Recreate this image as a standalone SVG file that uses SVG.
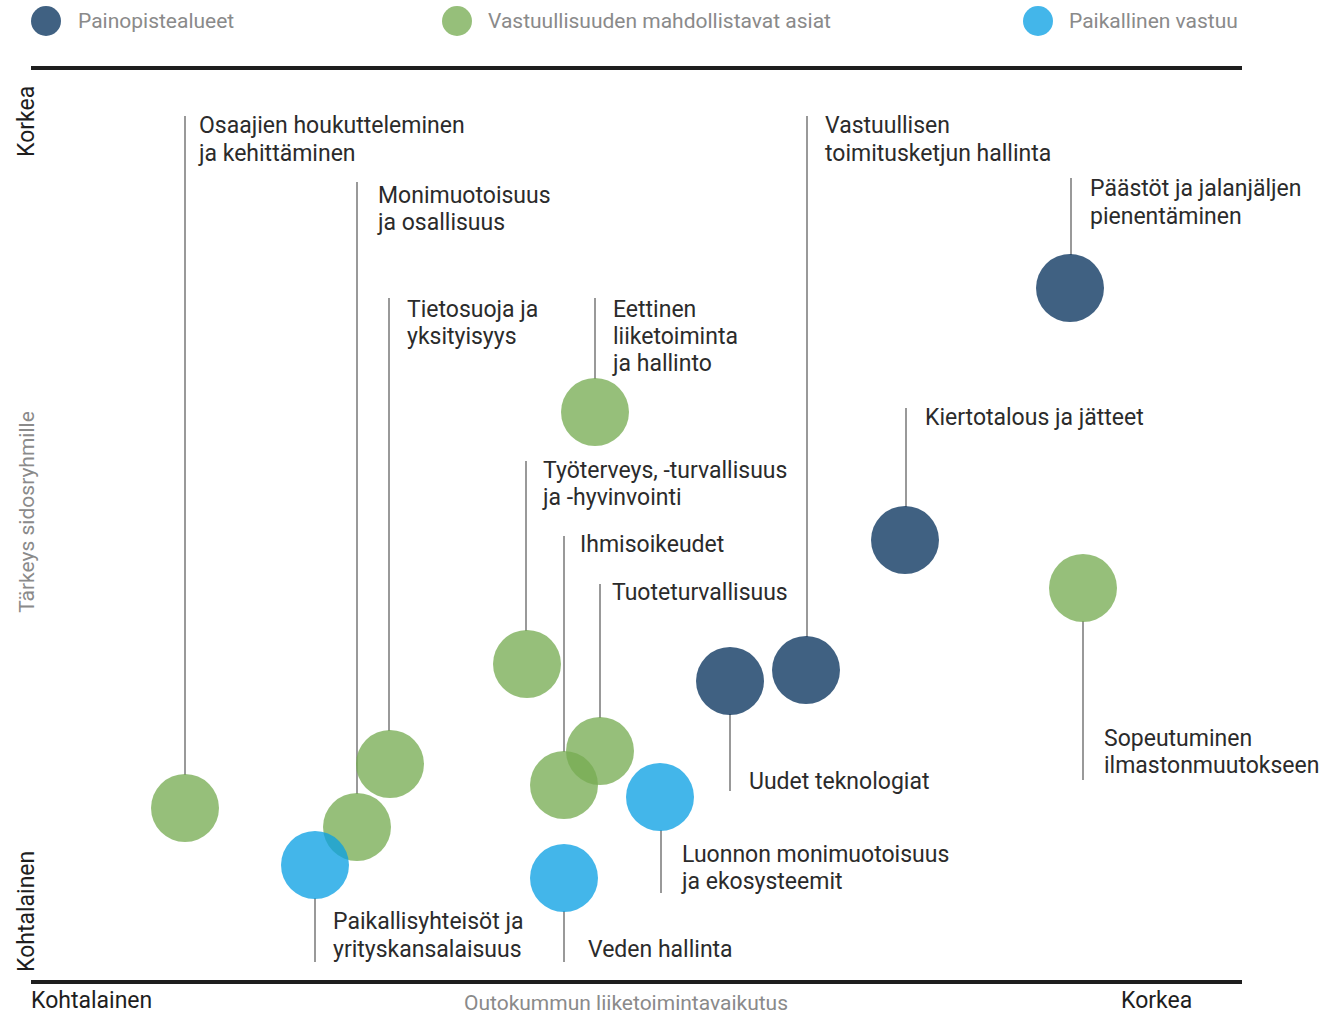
<svg xmlns="http://www.w3.org/2000/svg" width="1321" height="1013" viewBox="0 0 1321 1013">
<style>
text{font-family:Roboto,"Liberation Sans",sans-serif}
.lbl{font-size:23px;fill:#2b2b2b}
.leg{font-size:21px;fill:#8a8a8a}
.ax{font-size:23px;fill:#1e1e1e}
.axg{font-size:21px;fill:#8a8a8a}
.c{opacity:0.77}
.dark{fill:#06325d}
.green{fill:#77ac52}
.blue{fill:#0aa0e4}
.conn line{stroke:#999;stroke-width:2}
.axis{stroke:#1e1e1e;stroke-width:4}
</style>
<rect width="1321" height="1013" fill="#fff"/>
<g id="legend">
<circle class="c dark" cx="46" cy="21" r="15"/>
<text class="leg" x="78" y="28">Painopistealueet</text>
<circle class="c green" cx="457" cy="21" r="15"/>
<text class="leg" x="488" y="28">Vastuullisuuden mahdollistavat asiat</text>
<circle class="c blue" cx="1038" cy="21" r="15"/>
<text class="leg" x="1069" y="28">Paikallinen vastuu</text>
</g>
<g id="axes">
<line class="axis" x1="31" y1="68" x2="1242" y2="68"/>
<line class="axis" x1="31" y1="982" x2="1242" y2="982"/>
<text class="ax" transform="translate(34,157) rotate(-90)">Korkea</text>
<text class="ax" transform="translate(34,972) rotate(-90)">Kohtalainen</text>
<text class="axg" text-anchor="middle" transform="translate(34,512) rotate(-90)">Tärkeys sidosryhmille</text>
<text class="ax" x="31" y="1008">Kohtalainen</text>
<text class="axg" x="626" y="1010" text-anchor="middle">Outokummun liiketoimintavaikutus</text>
<text class="ax" x="1121" y="1008">Korkea</text>
</g>
<g class="conn" id="connectors">
<line x1="185" y1="116" x2="185" y2="775"/>
<line x1="357" y1="182" x2="357" y2="794"/>
<line x1="389" y1="298" x2="389" y2="731"/>
<line x1="595" y1="298" x2="595" y2="379"/>
<line x1="526" y1="461" x2="526" y2="631"/>
<line x1="564" y1="536" x2="564" y2="752"/>
<line x1="600" y1="584" x2="600" y2="718"/>
<line x1="807" y1="116" x2="807" y2="637"/>
<line x1="1071" y1="178" x2="1071" y2="255"/>
<line x1="906" y1="408" x2="906" y2="507"/>
<line x1="1083" y1="621" x2="1083" y2="780"/>
<line x1="730" y1="714" x2="730" y2="791"/>
<line x1="661" y1="830" x2="661" y2="893"/>
<line x1="315" y1="898" x2="315" y2="962"/>
<line x1="564" y1="911" x2="564" y2="962"/>
</g>
<g id="n-osaajien"><circle class="c green" cx="185" cy="808" r="34"/><text class="lbl" x="199" y="133">Osaajien houkutteleminen</text><text class="lbl" x="199" y="161">ja kehittäminen</text></g>
<g id="n-monimuotoisuus"><circle class="c green" cx="357" cy="827" r="34"/><text class="lbl" x="378" y="203">Monimuotoisuus</text><text class="lbl" x="378" y="230">ja osallisuus</text></g>
<g id="n-tietosuoja"><circle class="c green" cx="390" cy="764" r="34"/><text class="lbl" x="407" y="317">Tietosuoja ja</text><text class="lbl" x="407" y="344">yksityisyys</text></g>
<g id="n-eettinen"><circle class="c green" cx="595" cy="412" r="34"/><text class="lbl" x="613" y="317">Eettinen</text><text class="lbl" x="613" y="344">liiketoiminta</text><text class="lbl" x="613" y="371">ja hallinto</text></g>
<g id="n-tyoterveys"><circle class="c green" cx="527" cy="664" r="34"/><text class="lbl" x="543" y="478">Työterveys, -turvallisuus</text><text class="lbl" x="543" y="505">ja -hyvinvointi</text></g>
<g id="n-ihmisoikeudet"><circle class="c green" cx="564" cy="785" r="34"/><text class="lbl" x="580" y="552">Ihmisoikeudet</text></g>
<g id="n-tuoteturvallisuus"><circle class="c green" cx="600" cy="751" r="34"/><text class="lbl" x="612" y="600">Tuoteturvallisuus</text></g>
<g id="n-toimitusketju"><circle class="c dark" cx="806" cy="670" r="34"/><text class="lbl" x="825" y="133">Vastuullisen</text><text class="lbl" x="825" y="161">toimitusketjun hallinta</text></g>
<g id="n-paastot"><circle class="c dark" cx="1070" cy="288" r="34"/><text class="lbl" x="1090" y="196">Päästöt ja jalanjäljen</text><text class="lbl" x="1090" y="224">pienentäminen</text></g>
<g id="n-kiertotalous"><circle class="c dark" cx="905" cy="540" r="34"/><text class="lbl" x="925" y="425">Kiertotalous ja jätteet</text></g>
<g id="n-sopeutuminen"><circle class="c green" cx="1083" cy="588" r="34"/><text class="lbl" x="1104" y="746">Sopeutuminen</text><text class="lbl" x="1104" y="773">ilmastonmuutokseen</text></g>
<g id="n-teknologiat"><circle class="c dark" cx="730" cy="681" r="34"/><text class="lbl" x="749" y="789">Uudet teknologiat</text></g>
<g id="n-luonto"><circle class="c blue" cx="660" cy="797" r="34"/><text class="lbl" x="682" y="862">Luonnon monimuotoisuus</text><text class="lbl" x="682" y="889">ja ekosysteemit</text></g>
<g id="n-paikallis"><circle class="c blue" cx="315" cy="865" r="34"/><text class="lbl" x="333" y="929">Paikallisyhteisöt ja</text><text class="lbl" x="333" y="957">yrityskansalaisuus</text></g>
<g id="n-veden"><circle class="c blue" cx="564" cy="878" r="34"/><text class="lbl" x="588" y="957">Veden hallinta</text></g>
</svg>
